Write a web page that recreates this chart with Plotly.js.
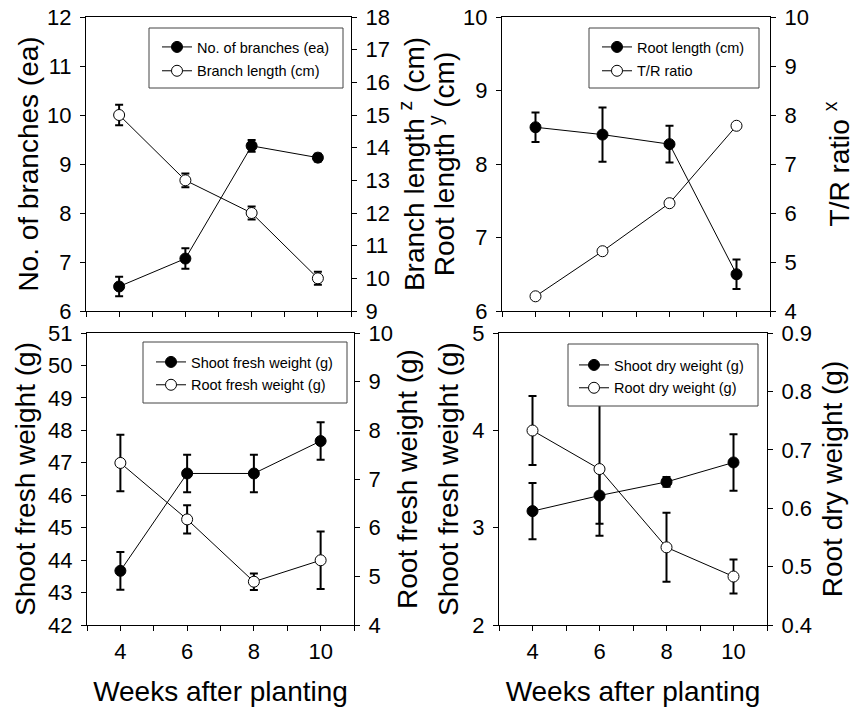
<!DOCTYPE html>
<html>
<head>
<meta charset="utf-8">
<script src="https://cdn.plot.ly/plotly-3.0.1.min.js"></script>
<style>html,body{margin:0;padding:0;background:#fff;}#chart{width:855px;height:711px;}</style>
</head>
<body>
<div id="chart"></div>
<script>
// ---- data ----
var weeks = [4, 6, 8, 10];

var branchNo = [6.5, 7.07, 9.37, 9.13];
var branchNoErr = [0.2, 0.21, 0.12, 0.08];
var branchLength = [15.0, 13.0, 12.0, 10.0];
var branchLengthErr = [0.31, 0.21, 0.2, 0.2];

var rootLength = [8.5, 8.4, 8.27, 6.5];
var rootLengthErr = [0.2, 0.37, 0.25, 0.2];
var trRatio = [4.3, 5.22, 6.2, 7.78];

var shootFresh = [43.67, 46.67, 46.67, 47.67];
var shootFreshErr = [0.58, 0.58, 0.58, 0.58];
var rootFresh = [7.33, 6.17, 4.89, 5.33];
var rootFreshErr = [0.58, 0.29, 0.17, 0.59];

var shootDry = [3.17, 3.33, 3.47, 3.67];
var shootDryErr = [0.29, 0.29, 0.05, 0.29];
var rootDry = [0.733, 0.667, 0.533, 0.483];
var rootDryErr = [0.059, 0.114, 0.059, 0.029];

var names = ['No. of branches (ea)', 'Branch length (cm)', 'Root length (cm)', 'T/R ratio',
             'Shoot fresh weight (g)', 'Root fresh weight (g)', 'Shoot dry weight (g)', 'Root dry weight (g)'];

// ---- styling ----
var FONT = 'Liberation Sans, Arial, Helvetica, sans-serif';
var TICKSIZE = 22, TITLESIZE = 28, LEGSIZE = 14.5;

function series(y, err, filled, xa, ya, name, leg, grp) {
  var t = {
    x: weeks, y: y, xaxis: xa, yaxis: ya, name: name, legend: leg, legendgroup: grp,
    type: 'scatter', mode: 'lines+markers',
    line: {color: 'black', width: 1},
    marker: {symbol: 'circle', size: 11, color: filled ? 'black' : 'white', line: {color: 'black', width: 1}},
    cliponaxis: false
  };
  if (err) t.error_y = {type: 'data', array: err, visible: true, color: 'black', thickness: 2, width: 4};
  return t;
}

var traces = [
  series(branchNo, branchNoErr, true, 'x', 'y', names[0], 'legend', 'g1'),
  series(branchLength, branchLengthErr, false, 'x', 'y2', names[1], 'legend', 'g2'),
  series(rootLength, rootLengthErr, true, 'x2', 'y3', names[2], 'legend2', 'g3'),
  series(trRatio, null, false, 'x2', 'y4', names[3], 'legend2', 'g4'),
  series(shootFresh, shootFreshErr, true, 'x3', 'y5', names[4], 'legend3', 'g5'),
  series(rootFresh, rootFreshErr, false, 'x3', 'y6', names[5], 'legend3', 'g6'),
  series(shootDry, shootDryErr, true, 'x4', 'y7', names[6], 'legend4', 'g7'),
  series(rootDry, rootDryErr, false, 'x4', 'y8', names[7], 'legend4', 'g8')
];

function px(v) { return v / 855; }
function py(v) { return 1 - v / 711; }

function xax(dom, anchor, labels) {
  var a = {
    domain: dom, anchor: anchor, range: [3, 11], tick0: 4, dtick: 2,
    showticklabels: labels, ticks: 'outside', ticklen: 5, tickwidth: 1, tickcolor: 'black',
    minor: {dtick: 1, tick0: 3, ticks: 'outside', ticklen: 5, tickwidth: 1, tickcolor: 'black', showgrid: false},
    showline: true, linecolor: 'black', linewidth: 1, mirror: true,
    showgrid: false, zeroline: false, fixedrange: true,
    tickfont: {family: FONT, size: TICKSIZE, color: 'black'}, ticklabelstandoff: 2
  };
  if (labels) a.title = {text: 'Weeks after planting', font: {family: FONT, size: TITLESIZE, color: 'black'}, standoff: 17};
  return a;
}

function yax(dom, anchor, range, dtick, title, side, overlay, standoff) {
  var a = {
    domain: dom, anchor: anchor, range: range, dtick: dtick, tick0: range[0], side: side,
    ticks: 'outside', ticklen: 5, tickwidth: 1, tickcolor: 'black',
    showline: true, linecolor: 'black', linewidth: 1,
    showgrid: false, zeroline: false, fixedrange: true,
    tickfont: {family: FONT, size: TICKSIZE, color: 'black'}, ticklabelstandoff: 4,
    title: {text: title, font: {family: FONT, size: TITLESIZE, color: 'black'}, standoff: standoff}
  };
  if (overlay) a.overlaying = overlay;
  return a;
}

var topY = [py(311), py(17)];
var botY = [py(625), py(333)];

function legend(x, y, gap) {
  return {
    x: px(x), y: py(y), xanchor: 'left', yanchor: 'top',
    bgcolor: 'rgba(0,0,0,0)', borderwidth: 0,
    font: {family: FONT, size: LEGSIZE, color: 'black'}, itemwidth: 30,
    traceorder: 'grouped', tracegroupgap: gap
  };
}

// legend frames (white boxes with a thin dark border, drawn over the plot)
function frame(x0, x1, y0, y1) {
  return {type: 'rect', xref: 'paper', yref: 'paper', x0: px(x0), x1: px(x1), y0: py(y1), y1: py(y0),
          line: {color: '#444', width: 1}, fillcolor: 'white', layer: 'above'};
}

var layout = {
  width: 855, height: 711,
  margin: {l: 0, r: 0, t: 0, b: 0},
  paper_bgcolor: 'white', plot_bgcolor: 'white',
  showlegend: true,
  font: {family: FONT, color: 'black'},
  xaxis: xax([px(86), px(351)], 'y', false),
  yaxis: yax(topY, 'x', [6, 12], 1, 'No. of branches (ea)', 'left', null, 0),
  yaxis2: yax(topY, 'x', [9, 18], 1, 'Branch length <sup>z</sup> (cm)', 'right', 'y', 15),
  xaxis2: xax([px(502), px(770)], 'y3', false),
  yaxis3: yax(topY, 'x2', [6, 10], 1, 'Root length <sup>y</sup> (cm)', 'left', null, 0),
  yaxis4: yax(topY, 'x2', [4, 10], 1, 'T/R ratio <sup>x</sup>', 'right', 'y3', 23),
  xaxis3: xax([px(87), px(354)], 'y5', true),
  yaxis5: yax(botY, 'x3', [42, 51], 1, 'Shoot fresh weight (g)', 'left', null, 4),
  yaxis6: yax(botY, 'x3', [4, 10], 1, 'Root fresh weight (g)', 'right', 'y5', 5),
  xaxis4: xax([px(499), px(767)], 'y7', true),
  yaxis7: yax(botY, 'x4', [2, 5], 1, 'Shoot fresh weight (g)', 'left', null, 5),
  yaxis8: yax(botY, 'x4', [0.4, 0.9], 0.1, 'Root dry weight (g)', 'right', 'y7', 11),
  shapes: [frame(149, 343, 28, 88), frame(589, 759, 28, 88), frame(143, 347, 342, 403), frame(568, 758, 344, 406)],
  legend: legend(157, 31, 2),
  legend2: legend(597, 31, 2),
  legend3: legend(151, 346, 1),
  legend4: legend(574, 349, 1)
};

Plotly.newPlot('chart', traces, layout, {staticPlot: true, displayModeBar: false});
</script>
</body>
</html>
